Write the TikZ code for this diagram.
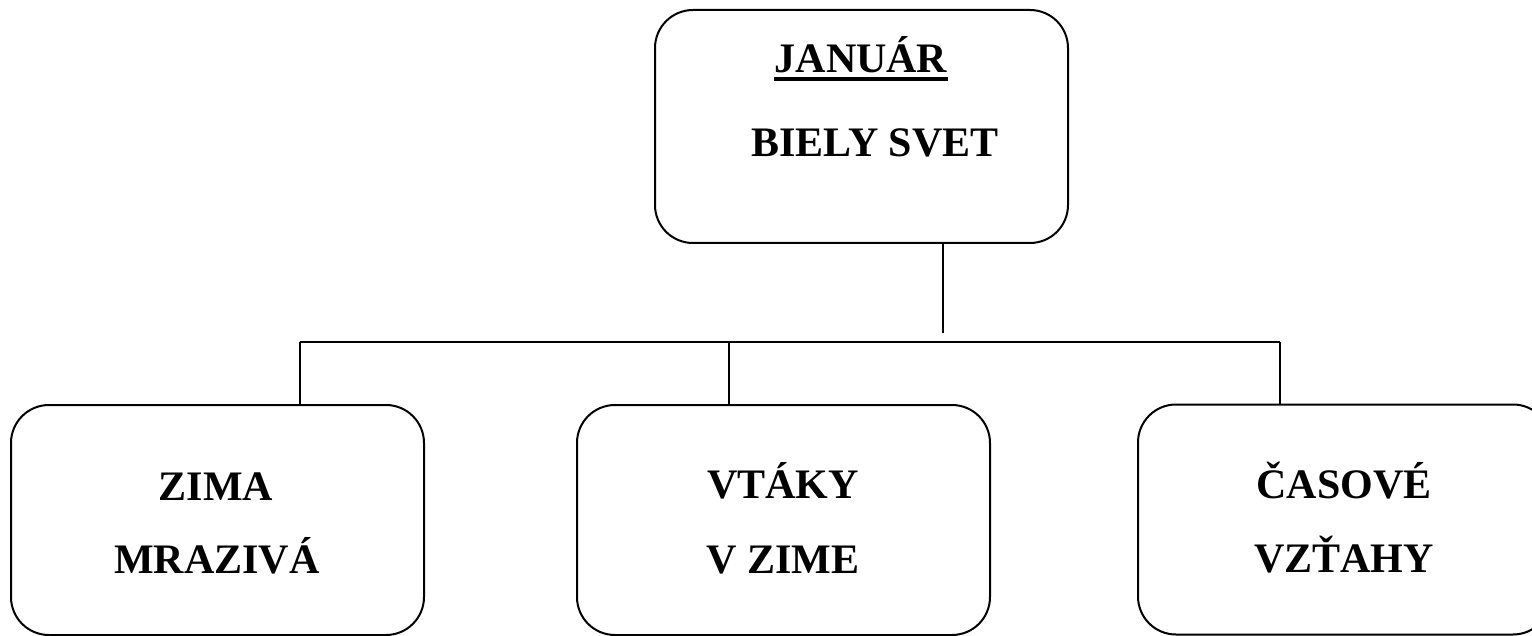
\documentclass[tikz,border=0pt]{standalone}
\usepackage{fontspec}
\setmainfont{Liberation Serif}
\begin{document}
\begin{tikzpicture}[x=0.5pt,y=-0.5pt,
  box/.style={draw, line width=1pt, rounded corners=19pt, minimum width=206.5pt, minimum height=115pt, inner sep=0pt},
  lbl/.style={anchor=base, inner sep=0pt, font=\fontsize{21pt}{25pt}\selectfont\bfseries},
  conn/.style={line width=1pt},
  bar/.style={line width=1.3pt}]
\useasboundingbox (0,0) rectangle (1532,636);
\begin{scope}
\clip (0,0) rectangle (1532,636);
\node[box, minimum height=116.5pt] (top) at (861.5,126.5) {};
\node[box] (left) at (217.5,520) {};
\node[box] (mid) at (783.5,520) {};
\node[box] (right) at (1344.5,519.5) {};

\node[lbl] (januar) at (861,73) {JANUÁR};
\draw[line width=2.1pt] ([yshift=-3.1pt]januar.base west) -- ([yshift=-3.1pt]januar.base east);
\node[lbl] (biely) at (875,157) {BIELY SVET};
\node[lbl] (zima) at (216,500) {ZIMA};
\node[lbl] (mraziva) at (217,573) {MRAZIVÁ};
\node[lbl] (vtaky) at (783,498) {VTÁKY};
\node[lbl] (vzime) at (783,573) {V ZIME};
\node[lbl] (casove) at (1344,498) {ČASOVÉ};
\node[lbl] (vztahy) at (1344,572) {VZŤAHY};

\coordinate (stem) at (943,333);
\coordinate (hl) at (300,342);
\coordinate (hm) at (729,342);
\coordinate (hr) at (1280,342);
\draw[conn] (top.south -| stem) -- (stem);
\draw[bar] (hl) -- (hr);
\draw[conn] (hl) -- (left.north -| hl);
\draw[conn] (hm) -- (mid.north -| hm);
\draw[conn] (hr) -- (right.north -| hr);
\end{scope}
\end{tikzpicture}
\end{document}
